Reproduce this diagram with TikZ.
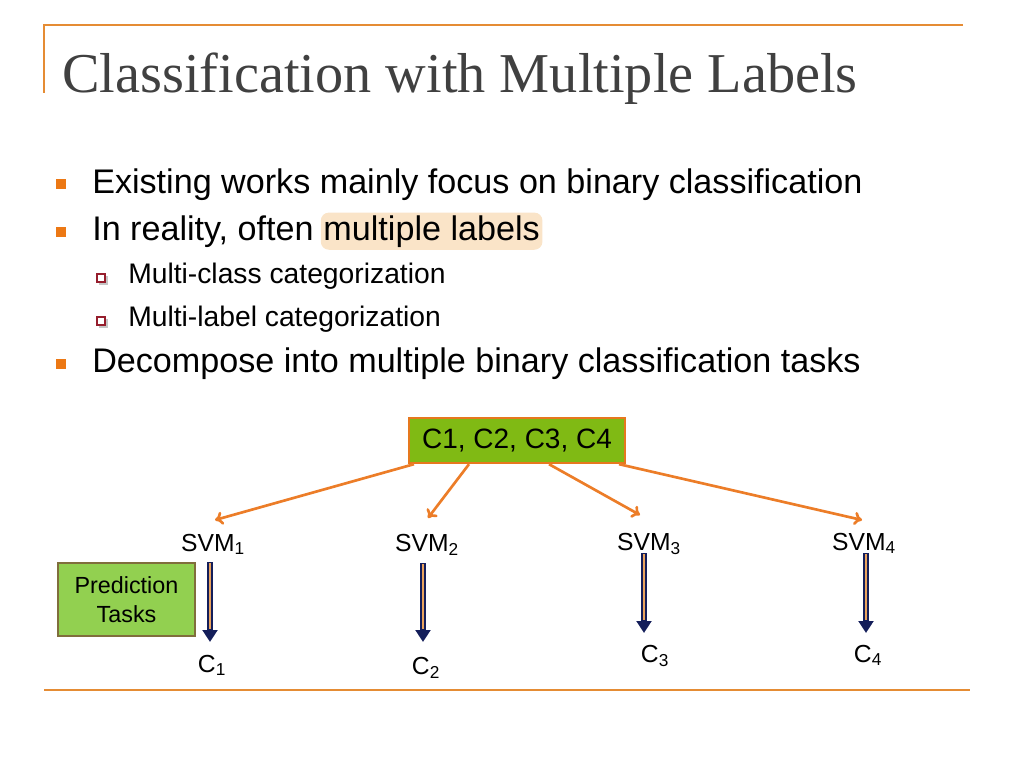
\documentclass[tikz,border=0pt]{standalone}
\usepackage{fontspec}
\setmainfont{Liberation Serif}
\setsansfont{Liberation Sans}
\usetikzlibrary{arrows.meta,calc}
\definecolor{rulecol}{RGB}{229,140,52}
\definecolor{titlegray}{RGB}{64,64,64}
\definecolor{bulletcol}{RGB}{236,120,20}
\definecolor{subred}{RGB}{150,30,45}
\definecolor{glow}{RGB}{250,228,200}
\definecolor{boxgreen}{RGB}{128,186,20}
\definecolor{boxline}{RGB}{230,120,30}
\definecolor{taskgreen}{RGB}{146,208,80}
\definecolor{taskline}{RGB}{128,110,60}
\definecolor{fan}{RGB}{236,125,40}
\definecolor{navy}{RGB}{20,30,90}

\begin{document}
\begin{tikzpicture}[x=0.75pt, y=-0.75pt]
    \tikzstyle{bulletsq}=[rectangle,fill=bulletcol,minimum size=7.5pt,inner sep=0pt]
    \tikzstyle{subsq}=[rectangle,draw=subred,fill=white,line width=0.8pt,minimum size=6pt,inner sep=0pt]
    \tikzstyle{point}=[anchor=base west,inner sep=0pt,font=\sffamily\fontsize{25.6}{30}\selectfont]
    \tikzstyle{subpoint}=[anchor=base west,inner sep=0pt,font=\sffamily\fontsize{21.2}{25}\selectfont]
    \tikzstyle{svmlabel}=[anchor=base,inner sep=0pt,font=\sffamily\fontsize{18.5}{22}\selectfont]
    \tikzstyle{fanarrow}=[draw=fan,line width=2pt,-{To[length=6pt,width=10pt]}]
    \useasboundingbox (0,0) rectangle (1024,768);

    % frame lines
    \draw[rulecol,line width=1.5pt] (963,25) -- (44,25) -- (44,93);
    \draw[rulecol,line width=1.5pt] (44,690) -- (970,690);

    \node[anchor=base west,inner sep=0pt,text=titlegray,font=\fontsize{42.2}{46}\selectfont] (title) at (62,92) {Classification with Multiple Labels};

    % bullets
    \node[bulletsq] (q1) at (61,184) {};
    \node[point] (p1) at (92,193) {Existing works mainly focus on binary classification};
    \node[bulletsq] (q2) at (61,232) {};
    \node[point] (p2) at (92,240) {In reality, often};
    \node[point,anchor=base west,fill=glow,inner xsep=2pt,inner ysep=2pt,rounded corners=6pt,xshift=5pt,text=black] (multi) at (p2.base east) {multiple labels};
    \fill[gray!45] (99,276) rectangle ++(8.5,8.5);
    \node[subsq] (r1) at (101,278) {};
    \node[subpoint] (p3) at (128,283) {Multi-class categorization};
    \fill[gray!45] (99,319) rectangle ++(8.5,8.5);
    \node[subsq] (r2) at (101,321) {};
    \node[subpoint] (p4) at (128,326) {Multi-label categorization};
    \node[bulletsq] (q3) at (61,364) {};
    \node[point] (p5) at (92,372) {Decompose into multiple binary classification tasks};

    % tree
    \node[draw=boxline,fill=boxgreen,line width=1.5pt,minimum width=162pt,minimum height=34pt,inner sep=0pt,font=\sffamily\fontsize{21}{24}\selectfont] (all) at (517,440.5) {C1, C2, C3, C4};

    \node[svmlabel] (s1) at (213,551) {SVM\textsubscript{1}};
    \node[svmlabel] (s2) at (427,551) {SVM\textsubscript{2}};
    \node[svmlabel] (s3) at (649,550) {SVM\textsubscript{3}};
    \node[svmlabel] (s4) at (864,550) {SVM\textsubscript{4}};

    \node[svmlabel] (c1) at (212,672) {C\textsubscript{1}};
    \node[svmlabel] (c2) at (426,674) {C\textsubscript{2}};
    \node[svmlabel] (c3) at (655,662) {C\textsubscript{3}};
    \node[svmlabel] (c4) at (868,662) {C\textsubscript{4}};

    \draw[fanarrow] ($(all.south west)+(6,0)$) -- ($(s1.base)+(2,-31)$);
    \draw[fanarrow] ($(all.south west)+(61,0)$) -- ($(s2.base)+(1,-33)$);
    \draw[fanarrow] ($(all.south west)+(141,0)$) -- ($(s3.base)+(-9,-35)$);
    \draw[fanarrow] ($(all.south west)+(211,0)$) -- ($(s4.base)+(-2,-30)$);

    \foreach \i/\dx/\ds/\de in {1/-3/11/30, 2/-4/12/32, 3/-5/3/29, 4/2/3/29}{
      \draw[navy,line width=4pt,-{Triangle[length=9pt,width=11pt]}]
        ($(s\i.base)+(\dx,\ds)$) -- ($(s\i.base |- c\i.base)+(\dx,-\de)$);
      \draw[rulecol!80!white,line width=1pt]
        ($(s\i.base)+(\dx,\ds+1)$) -- ($(s\i.base |- c\i.base)+(\dx,-\de-13)$);
    }

    \node[draw=taskline,fill=taskgreen,line width=1.5pt,minimum width=103pt,minimum height=55pt,inner sep=0pt,align=center,font=\sffamily\fontsize{17.5}{21.5}\selectfont] (tasks) at (126.5,599.5) {Prediction\\Tasks};
\end{tikzpicture}
\end{document}
